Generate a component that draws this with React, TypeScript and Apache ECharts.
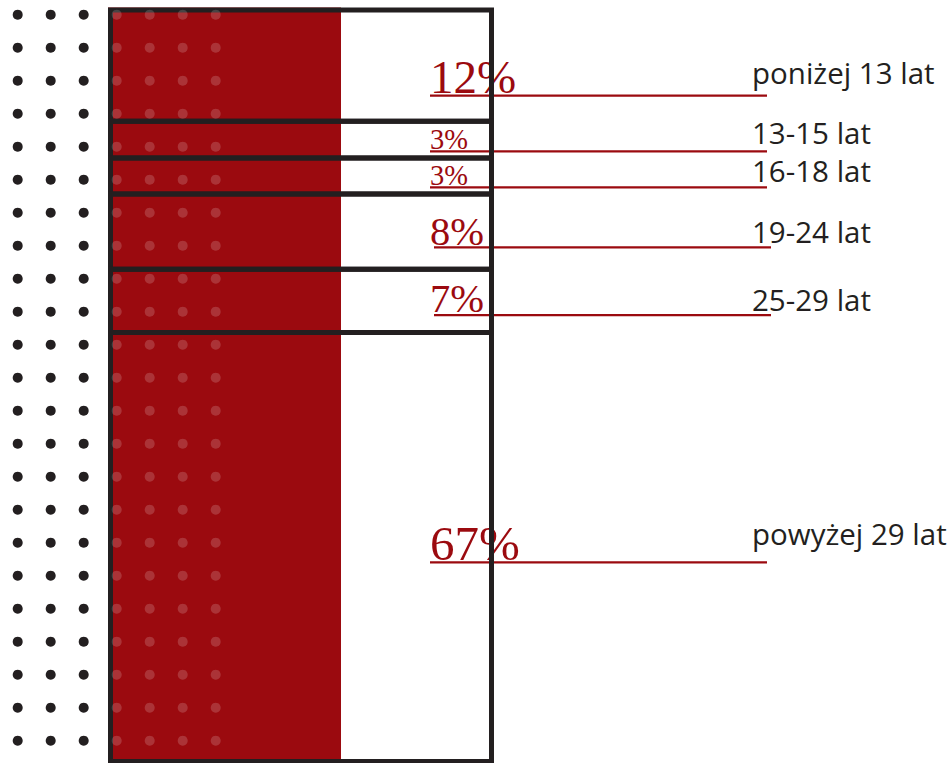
import React, { useEffect, useRef } from "react";
import * as echarts from "echarts";

// ---- data ----
const categories = ["poniżej 13 lat", "13-15 lat", "16-18 lat", "19-24 lat", "25-29 lat", "powyżej 29 lat"];
const percentValues = [12, 3, 3, 8, 7, 67];
// share of the box height each band occupies in the picture (0–100 scale)
const bandShares = [14.8, 4.9, 4.8, 10.0, 8.4, 57.1];
// level of each red underline on the same 0–100 scale
const underlineLevels = [11.4, 18.8, 23.6, 31.6, 40.6, 73.5];
// baseline level of each category name on the same scale
const nameLevels = [9.85, 17.8, 22.9, 31.0, 40.05, 71.2];
// red fill width as share of the box width
const redFillShare = [60.5];

// ---- styles / layout ----
const RED = "#9b0a0f";
const DARK = "#231f20";
const PCT_FONT = [47, 28.5, 28.5, 40.5, 40.5, 49];
const LINE_SHIFT = [0, 0, 0, 4, 4, 0];
const NAME_FONT = 29.5;
const DOT_COLS = 7;
const DOT_ROWS = 23;

export default function App() {
  const ref = useRef<HTMLDivElement>(null);

  useEffect(() => {
    document.body.style.margin = "0";
    if (!ref.current) return;
    const chart = echarts.init(ref.current, null, { renderer: "svg" });

    const bands: number[][] = [];
    let acc = 0;
    bandShares.forEach((s, i) => {
      bands.push([acc, acc + s, i]);
      acc += s;
    });

    const dots: any[] = [];
    for (let r = 0; r < DOT_ROWS; r++) {
      for (let c = 0; c < DOT_COLS; c++) {
        dots.push({
          type: "circle",
          shape: { cx: 17.7 + 33 * c, cy: 14.7 + 33 * r, r: 5 },
          style: { fill: c < 3 ? DARK : "rgba(255,255,255,0.17)" },
          z: 100,
          silent: true,
        });
      }
    }

    chart.setOption({
      animation: false,
      grid: { left: 110.5, top: 10, width: 381, height: 751.5, containLabel: false },
      xAxis: { type: "value", min: 0, max: 100, show: false },
      yAxis: { type: "value", min: 0, max: 100, inverse: true, show: false },
      graphic: { elements: dots },
      series: [
        {
          type: "custom",
          z: 1,
          clip: false,
          data: [[0, redFillShare[0]]],
          renderItem: (params: any, api: any) => {
            const p0 = api.coord([0, 0]);
            const p1 = api.coord([api.value(1), 100]);
            return {
              type: "rect",
              shape: { x: p0[0] - 2.5, y: p0[1] - 2.5, width: p1[0] - p0[0] + 2.5, height: p1[1] - p0[1] + 1 },
              style: { fill: RED },
            };
          },
        },
        {
          type: "custom",
          z: 3,
          clip: false,
          data: bands,
          renderItem: (params: any, api: any) => {
            const i = params.dataIndex;
            const tl = api.coord([0, api.value(0)]);
            const br = api.coord([100, api.value(1)]);
            const lineY = api.coord([0, underlineLevels[i]])[1];
            const nameY = api.coord([0, nameLevels[i]])[1];
            const right = br[0];
            const tx = right - 61.5;
            const ls = tx + LINE_SHIFT[i];
            const le = right + 275.5 + LINE_SHIFT[i];
            const fs = PCT_FONT[i];
            return {
              type: "group",
              children: [
                {
                  type: "line",
                  z2: 2,
                  shape: { x1: ls, y1: lineY, x2: le, y2: lineY },
                  style: { stroke: RED, lineWidth: 2.2 },
                },
                {
                  type: "text",
                  z2: 3,
                  style: {
                    text: percentValues[i] + "%",
                    x: tx,
                    y: lineY - 2.5 - 0.3375 * fs,
                    font: `${fs}px "Liberation Serif"`,
                    fill: RED,
                    align: "left",
                    verticalAlign: "middle",
                  },
                },
                {
                  type: "text",
                  z2: 3,
                  style: {
                    text: categories[i],
                    x: right + 260.5,
                    y: nameY - 0.388 * NAME_FONT,
                    font: `${NAME_FONT}px "Open Sans"`,
                    fill: DARK,
                    align: "left",
                    verticalAlign: "middle",
                  },
                },
                {
                  type: "rect",
                  z2: 10,
                  shape: { x: tl[0], y: tl[1], width: br[0] - tl[0], height: br[1] - tl[1] },
                  style: { fill: "none", stroke: DARK, lineWidth: 5 },
                },
              ],
            };
          },
        },
      ],
    });

    return () => chart.dispose();
  }, []);

  return <div ref={ref} style={{ width: 952, height: 763 }} />;
}
